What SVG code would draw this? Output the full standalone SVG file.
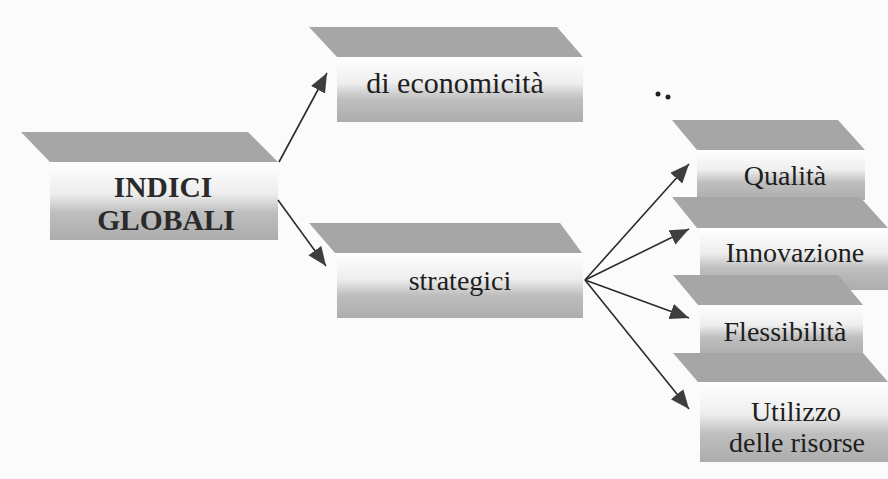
<svg xmlns="http://www.w3.org/2000/svg" width="888" height="479" viewBox="0 0 888 479">
<defs>
<linearGradient id="g" x1="0" y1="0" x2="0" y2="1">
<stop offset="0" stop-color="#ffffff"/>
<stop offset="0.4" stop-color="#eeeeee"/>
<stop offset="0.65" stop-color="#bebebe"/>
<stop offset="1" stop-color="#adadad"/>
</linearGradient>
<marker id="ah" markerUnits="userSpaceOnUse" markerWidth="20" markerHeight="18" refX="19" refY="8" orient="auto">
<path d="M0,0 L19,8 L0,16 z" fill="#3e3e3e"/>
</marker>
<style>
.para{fill:#a6a6a6}
.box{fill:url(#g)}
.t{font-size:28px;fill:#1e1e1e;text-anchor:middle}
.b{font-weight:bold;fill:#2a2a2a;font-size:29.5px}
.c{stroke:#2b2b2b;stroke-width:1.6;fill:none;marker-end:url(#ah)}
</style>
</defs>
<rect width="888" height="479" fill="#fbfbfb"/>
<g font-family="'Liberation Serif', 'Times New Roman', 'DejaVu Serif', serif">
<g id="indici">
<rect class="box" x="50" y="162" width="228" height="78"/>
<polygon class="para" points="21,132 248,132 278,162 50,162"/>
<text class="t b" x="163" y="197">INDICI</text>
<text class="t b" x="166" y="230">GLOBALI</text>
</g>
<g id="economicita">
<rect class="box" x="337" y="57" width="246" height="65"/>
<polygon class="para" points="309,27 557,27 583,57 337,57"/>
<text class="t" x="455" y="93" style="font-size:30px">di economicità</text>
</g>
<g id="strategici">
<rect class="box" x="337" y="253" width="246" height="65"/>
<polygon class="para" points="309,223 560,223 582,253 335,253"/>
<text class="t" x="460" y="290">strategici</text>
</g>
<g id="qualita">
<rect class="box" x="697" y="150" width="168" height="50"/>
<polygon class="para" points="672,120 838,120 865,150 697,150"/>
<text class="t" x="785" y="185">Qualità</text>
</g>
<g id="innovazione">
<rect class="box" x="700" y="228" width="188" height="62"/>
<polygon class="para" points="672,197 860,197 888,228 697,228"/>
<text class="t" x="795" y="262">Innovazione</text>
</g>
<g id="flessibilita">
<rect class="box" x="700" y="305" width="163" height="50"/>
<polygon class="para" points="673,275 838,275 863,305 698,305"/>
<text class="t" x="785" y="341">Flessibilità</text>
</g>
<g id="utilizzo">
<rect class="box" x="700" y="382" width="188" height="80"/>
<polygon class="para" points="673,353 863,353 888,382 698,382"/>
<text class="t" x="796" y="421">Utilizzo</text>
<text class="t" x="797" y="452">delle risorse</text>
</g>
</g>
<g id="dots" fill="#222">
<circle cx="658" cy="94" r="2.5"/>
<circle cx="668" cy="97" r="2.5"/>
</g>
<g id="connectors">
<line class="c" x1="279" y1="162" x2="327" y2="73"/>
<line class="c" x1="278" y1="200" x2="326" y2="266"/>
<line class="c" x1="585" y1="280" x2="689" y2="164"/>
<line class="c" x1="585" y1="280" x2="689" y2="229"/>
<line class="c" x1="585" y1="280" x2="689" y2="318"/>
<line class="c" x1="585" y1="280" x2="689" y2="409"/>
</g>
</svg>
